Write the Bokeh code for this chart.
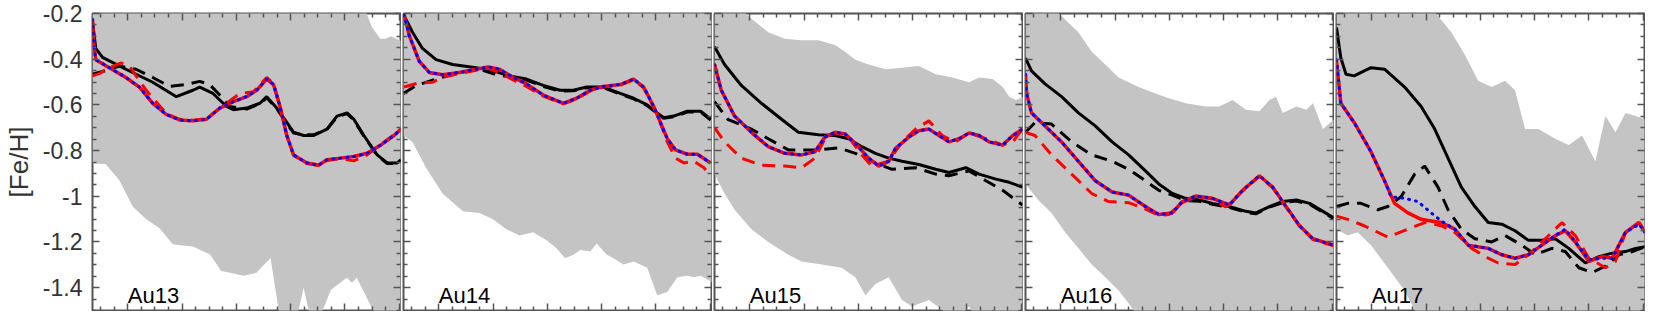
from bokeh.plotting import figure
from bokeh.layouts import row
from bokeh.models import Range1d, LinearAxis, FixedTicker, CustomJSTickFormatter, Label
from bokeh.embed import file_html
from bokeh.resources import INLINE

# ---------------- data ----------------
PANEL_NAMES = ["Au13", "Au14", "Au15", "Au16", "Au17"]

Y_MAJOR_TICKS = [-1.4, -1.2, -1.0, -0.8, -0.6, -0.4, -0.2]
Y_MINOR_TICKS = [-1.5, -1.45, -1.35, -1.3, -1.25, -1.15, -1.1, -1.05, -0.95, -0.9, -0.85,
                 -0.75, -0.7, -0.65, -0.55, -0.5, -0.45, -0.35, -0.3, -0.25]
X_MAJOR_TICKS = [2, 4, 6, 8, 10, 12]
X_MINOR_TICKS = [1.0, 1.5, 2.5, 3.0, 3.5, 4.5, 5.0, 5.5, 6.5, 7.0, 7.5, 8.5, 9.0, 9.5,
                 10.5, 11.0, 11.5]
X_LIMITS = [0.7, 12.05]
Y_LIMITS = [-1.5, -0.2]

# ---- Au13 ----
au13_solid_x = [0.70, 0.82, 1.07, 1.93, 2.92, 3.79, 4.40, 4.65, 5.14, 5.64, 5.89, 6.38, 6.87, 7.12, 7.49, 7.86, 8.11, 8.48, 8.85, 9.34, 9.71, 10.08, 10.33, 10.70, 11.19, 11.56, 11.93, 12.07]
au13_solid_y = [-0.232, -0.353, -0.392, -0.444, -0.501, -0.564, -0.536, -0.522, -0.550, -0.607, -0.621, -0.614, -0.593, -0.564, -0.614, -0.677, -0.720, -0.734, -0.734, -0.706, -0.649, -0.635, -0.663, -0.734, -0.819, -0.854, -0.854, -0.840]
au13_dash_x = [0.70, 1.07, 1.69, 2.30, 2.92, 3.54, 4.16, 4.65, 5.02, 5.39, 5.76, 6.38, 6.87, 7.12, 7.49, 7.86, 8.11, 8.48, 8.85, 9.34, 9.71, 10.08, 10.33, 10.70, 11.19, 11.56, 11.93, 12.07]
au13_dash_y = [-0.466, -0.454, -0.430, -0.444, -0.480, -0.519, -0.511, -0.497, -0.511, -0.557, -0.607, -0.618, -0.595, -0.569, -0.617, -0.682, -0.723, -0.731, -0.731, -0.708, -0.652, -0.638, -0.666, -0.737, -0.821, -0.857, -0.857, -0.843]
au13_red_x = [0.70, 0.74, 0.82, 1.32, 1.93, 2.43, 2.92, 3.42, 3.91, 4.40, 4.90, 5.39, 5.89, 6.38, 6.75, 7.12, 7.37, 7.61, 7.86, 8.11, 8.60, 9.03, 9.34, 9.84, 10.33, 10.82, 11.32, 11.81, 12.07]
au13_red_y = [-0.225, -0.324, -0.402, -0.437, -0.480, -0.522, -0.593, -0.642, -0.666, -0.670, -0.663, -0.614, -0.586, -0.564, -0.536, -0.487, -0.511, -0.607, -0.734, -0.819, -0.854, -0.864, -0.840, -0.833, -0.826, -0.812, -0.776, -0.734, -0.706]
au13_blue_x = au13_red_x
au13_blue_y = au13_red_y
au13_reddash_x = [0.70, 0.95, 1.32, 1.75, 2.06, 2.43, 2.68, 3.42, 3.91, 4.40, 4.90, 5.39, 6.13, 6.63, 7.12, 7.37, 7.61, 7.86, 8.11, 8.60, 9.03, 9.34, 9.84, 10.33, 10.82, 11.32, 11.81, 12.07]
au13_reddash_y = [-0.473, -0.463, -0.437, -0.416, -0.430, -0.494, -0.536, -0.638, -0.663, -0.667, -0.660, -0.614, -0.550, -0.543, -0.480, -0.506, -0.607, -0.734, -0.821, -0.857, -0.864, -0.843, -0.836, -0.845, -0.819, -0.773, -0.731, -0.706]
au13_band_hi_x = [0.70, 10.60, 10.80, 11.00, 11.30, 11.50, 11.70, 12.07]
au13_band_hi_y = [-0.10, -0.10, -0.20, -0.26, -0.31, -0.31, -0.30, -0.32]
au13_band_lo_x = [0.70, 1.19, 1.69, 2.18, 2.67, 3.17, 3.66, 4.03, 4.40, 5.03, 5.44, 5.77, 6.26, 6.74, 7.26, 7.63, 8.11, 8.48, 8.85, 9.48, 10.07, 10.26, 10.44, 10.96, 11.44, 12.07]
au13_band_lo_y = [-0.855, -0.860, -0.930, -1.045, -1.100, -1.140, -1.210, -1.215, -1.220, -1.255, -1.327, -1.335, -1.348, -1.335, -1.270, -1.550, -1.600, -1.400, -1.600, -1.410, -1.357, -1.378, -1.357, -1.480, -1.600, -1.600]

# ---- Au14 ----
au14_solid_x = [0.70, 1.03, 1.40, 1.90, 2.51, 3.38, 4.00, 4.61, 5.23, 5.85, 6.47, 6.96, 7.45, 8.07, 8.69, 9.18, 9.68, 10.05, 10.29, 10.66, 11.16, 11.65, 12.02]
au14_solid_y = [-0.204, -0.282, -0.353, -0.402, -0.423, -0.437, -0.451, -0.473, -0.487, -0.515, -0.536, -0.536, -0.522, -0.522, -0.550, -0.571, -0.600, -0.635, -0.656, -0.649, -0.628, -0.628, -0.663]
au14_dash_x = [0.70, 1.16, 1.90, 2.76, 3.50, 4.12, 4.61, 5.23, 5.85, 6.47, 6.96, 7.45, 8.07, 8.69, 9.18, 9.68, 10.05, 10.29, 10.66, 11.16, 11.65, 12.02]
au14_dash_y = [-0.550, -0.515, -0.487, -0.458, -0.444, -0.468, -0.477, -0.491, -0.519, -0.540, -0.538, -0.525, -0.525, -0.553, -0.574, -0.603, -0.638, -0.659, -0.652, -0.631, -0.631, -0.666]
au14_red_x = [0.72, 0.91, 1.28, 1.65, 2.14, 2.76, 3.38, 3.81, 4.24, 4.74, 5.23, 5.85, 6.59, 7.08, 7.58, 8.07, 8.69, 9.18, 9.55, 9.92, 10.17, 10.42, 10.72, 11.16, 11.53, 12.02]
au14_red_y = [-0.204, -0.296, -0.409, -0.458, -0.468, -0.458, -0.444, -0.434, -0.444, -0.480, -0.508, -0.557, -0.593, -0.571, -0.536, -0.519, -0.511, -0.487, -0.522, -0.607, -0.677, -0.748, -0.797, -0.816, -0.816, -0.854]
au14_blue_x = au14_red_x
au14_blue_y = au14_red_y
au14_reddash_x = [0.72, 1.22, 1.77, 2.14, 2.76, 3.38, 3.81, 4.24, 4.74, 5.23, 5.85, 6.59, 7.08, 7.58, 8.07, 8.69, 9.18, 9.55, 9.92, 10.17, 10.42, 10.72, 11.03, 11.40, 11.77, 12.02]
au14_reddash_y = [-0.522, -0.505, -0.501, -0.480, -0.463, -0.449, -0.440, -0.458, -0.491, -0.519, -0.562, -0.595, -0.574, -0.539, -0.522, -0.514, -0.490, -0.525, -0.610, -0.680, -0.762, -0.833, -0.854, -0.847, -0.875, -0.910]
au14_band_hi_x = [0.70, 12.07]
au14_band_hi_y = [-0.10, -0.10]
au14_band_lo_x = [0.70, 1.03, 1.53, 2.14, 2.89, 3.50, 4.00, 4.49, 4.98, 5.48, 5.97, 6.34, 6.65, 6.96, 7.21, 7.58, 7.82, 8.19, 8.44, 8.81, 9.18, 9.68, 10.05, 10.42, 10.79, 11.16, 11.40, 11.65, 12.07]
au14_band_lo_y = [-0.734, -0.762, -0.875, -0.988, -1.066, -1.073, -1.101, -1.144, -1.172, -1.158, -1.193, -1.228, -1.271, -1.256, -1.235, -1.242, -1.207, -1.256, -1.271, -1.299, -1.285, -1.313, -1.433, -1.419, -1.355, -1.348, -1.355, -1.348, -1.377]

# ---- Au15 ----
au15_solid_x = [0.70, 1.07, 1.69, 2.43, 3.17, 3.79, 4.53, 5.14, 5.64, 6.13, 6.63, 7.12, 7.61, 8.23, 8.85, 9.34, 9.96, 10.45, 11.07, 11.56, 12.05]
au15_solid_y = [-0.345, -0.423, -0.515, -0.593, -0.663, -0.720, -0.731, -0.734, -0.748, -0.783, -0.812, -0.833, -0.847, -0.861, -0.882, -0.896, -0.875, -0.903, -0.925, -0.939, -0.960]
au15_dash_x = [0.70, 1.19, 2.06, 2.68, 3.42, 3.91, 4.53, 5.27, 5.89, 6.63, 7.24, 8.11, 8.85, 9.34, 10.08, 10.70, 11.32, 12.05]
au15_dash_y = [-0.586, -0.663, -0.706, -0.748, -0.797, -0.797, -0.797, -0.788, -0.812, -0.854, -0.882, -0.875, -0.903, -0.910, -0.889, -0.932, -0.974, -1.038]
au15_red_x = [0.70, 0.95, 1.44, 2.06, 2.68, 3.29, 3.91, 4.40, 4.77, 5.14, 5.51, 5.89, 6.38, 6.75, 7.12, 7.37, 7.86, 8.23, 8.60, 8.97, 9.34, 9.71, 10.08, 10.45, 10.82, 11.32, 11.69, 12.05]
au15_red_y = [-0.423, -0.536, -0.649, -0.720, -0.783, -0.812, -0.819, -0.805, -0.741, -0.720, -0.727, -0.769, -0.833, -0.868, -0.847, -0.790, -0.741, -0.713, -0.706, -0.734, -0.762, -0.748, -0.723, -0.734, -0.762, -0.776, -0.734, -0.706]
au15_blue_x = au15_red_x
au15_blue_y = au15_red_y
au15_reddash_x = [0.70, 1.07, 1.69, 2.43, 3.29, 3.91, 4.40, 4.77, 5.14, 5.64, 6.13, 6.50, 7.12, 7.61, 8.11, 8.60, 9.09, 9.59, 10.08, 10.70, 11.32, 11.69, 12.05]
au15_reddash_y = [-0.699, -0.762, -0.833, -0.864, -0.868, -0.875, -0.833, -0.748, -0.720, -0.741, -0.819, -0.868, -0.847, -0.762, -0.706, -0.670, -0.734, -0.762, -0.723, -0.748, -0.776, -0.762, -0.706]
au15_band_hi_x = [0.70, 1.50, 1.93, 2.68, 3.29, 3.91, 4.53, 5.14, 5.51, 5.89, 6.38, 7.00, 7.61, 8.23, 8.85, 9.47, 10.08, 10.45, 10.95, 11.32, 11.56, 11.81, 12.07]
au15_band_hi_y = [-0.120, -0.150, -0.211, -0.282, -0.310, -0.317, -0.317, -0.338, -0.367, -0.402, -0.423, -0.444, -0.437, -0.430, -0.466, -0.480, -0.501, -0.480, -0.487, -0.522, -0.564, -0.579, -0.564]
au15_band_lo_x = [0.70, 1.07, 1.44, 2.06, 2.68, 3.42, 3.91, 4.65, 5.39, 5.89, 6.26, 6.63, 7.12, 7.61, 7.98, 8.60, 9.09, 9.59, 10.08, 10.45, 10.95, 11.32, 12.07]
au15_band_lo_y = [-0.903, -0.988, -1.059, -1.144, -1.200, -1.256, -1.285, -1.299, -1.313, -1.355, -1.433, -1.384, -1.355, -1.454, -1.483, -1.454, -1.497, -1.553, -1.483, -1.553, -1.497, -1.553, -1.553]

# ---- Au16 ----
au16_solid_x = [0.70, 0.92, 1.42, 2.03, 2.65, 3.27, 3.89, 4.50, 5.12, 5.61, 6.11, 6.60, 7.10, 7.59, 8.21, 8.82, 9.19, 9.69, 10.18, 10.68, 11.17, 11.66, 12.05]
au16_solid_y = [-0.395, -0.451, -0.508, -0.564, -0.635, -0.692, -0.762, -0.819, -0.889, -0.946, -0.988, -1.009, -1.016, -1.031, -1.045, -1.066, -1.073, -1.045, -1.023, -1.016, -1.031, -1.066, -1.094]
au16_dash_x = [0.70, 1.05, 1.66, 2.40, 3.14, 3.89, 4.50, 5.12, 5.61, 6.11, 6.60, 7.10, 7.59, 8.21, 8.82, 9.19, 9.69, 10.18, 10.68, 11.17, 11.66, 12.05]
au16_dash_y = [-0.720, -0.677, -0.684, -0.762, -0.819, -0.847, -0.882, -0.932, -0.974, -0.995, -1.019, -1.022, -1.035, -1.049, -1.070, -1.077, -1.047, -1.028, -1.021, -1.035, -1.070, -1.098]
au16_red_x = [0.70, 0.74, 0.92, 1.42, 2.03, 2.65, 3.27, 3.89, 4.50, 5.12, 5.61, 6.11, 6.48, 6.97, 7.59, 8.21, 8.70, 9.32, 9.81, 10.30, 10.80, 11.29, 12.05]
au16_red_y = [-0.466, -0.550, -0.635, -0.692, -0.762, -0.847, -0.932, -0.981, -0.995, -1.045, -1.080, -1.073, -1.023, -0.999, -1.009, -1.038, -0.974, -0.910, -0.960, -1.045, -1.129, -1.186, -1.214]
au16_blue_x = au16_red_x
au16_blue_y = au16_red_y
au16_reddash_x = [0.70, 1.05, 1.66, 2.40, 3.14, 3.76, 4.50, 5.12, 5.61, 5.98, 6.48, 6.97, 7.59, 8.08, 8.70, 9.32, 9.81, 10.30, 10.80, 11.29, 12.05]
au16_reddash_y = [-0.720, -0.734, -0.819, -0.903, -0.988, -1.023, -1.028, -1.056, -1.084, -1.080, -1.028, -1.002, -1.012, -1.047, -0.977, -0.913, -0.963, -1.047, -1.132, -1.189, -1.217]
au16_band_hi_x = [0.70, 1.50, 2.03, 2.65, 3.14, 3.64, 4.13, 4.87, 5.49, 5.98, 6.60, 7.34, 7.84, 8.33, 8.82, 9.32, 9.69, 9.93, 10.18, 10.68, 11.05, 11.29, 11.66, 12.07]
au16_band_hi_y = [-0.120, -0.150, -0.211, -0.282, -0.367, -0.423, -0.480, -0.522, -0.550, -0.571, -0.593, -0.607, -0.607, -0.579, -0.621, -0.628, -0.579, -0.564, -0.635, -0.607, -0.621, -0.593, -0.706, -0.663]
au16_band_lo_x = [0.70, 1.17, 1.66, 2.16, 2.65, 3.14, 3.64, 4.13, 4.50, 4.75, 5.12, 12.07]
au16_band_lo_y = [-0.946, -1.016, -1.073, -1.158, -1.228, -1.299, -1.355, -1.412, -1.468, -1.511, -1.550, -1.550]

# ---- Au17 ----
au17_solid_x = [0.70, 0.86, 1.05, 1.35, 1.97, 2.47, 3.21, 3.82, 4.32, 4.81, 5.30, 5.80, 6.29, 6.79, 7.28, 7.77, 8.27, 8.76, 9.26, 9.87, 10.37, 10.86, 11.35, 11.72, 12.07]
au17_solid_y = [-0.261, -0.395, -0.466, -0.473, -0.437, -0.444, -0.522, -0.607, -0.706, -0.833, -0.960, -1.045, -1.115, -1.122, -1.151, -1.193, -1.193, -1.186, -1.228, -1.292, -1.264, -1.249, -1.242, -1.228, -1.221]
au17_dash_x = [0.70, 1.11, 1.60, 2.22, 2.59, 3.08, 3.58, 3.95, 4.44, 4.81, 5.30, 5.80, 6.42, 6.91, 7.53, 8.02, 8.64, 9.13, 9.63, 10.12, 10.61, 11.11, 11.60, 12.07]
au17_dash_y = [-1.045, -1.031, -1.031, -1.059, -1.045, -1.002, -0.903, -0.868, -0.960, -1.059, -1.144, -1.186, -1.200, -1.172, -1.214, -1.256, -1.228, -1.242, -1.313, -1.334, -1.306, -1.256, -1.242, -1.221]
au17_red_x = [0.70, 0.86, 1.35, 1.97, 2.47, 2.84, 3.33, 3.82, 4.19, 4.56, 5.06, 5.55, 6.29, 6.79, 7.28, 7.77, 8.27, 8.76, 9.13, 9.50, 10.00, 10.49, 10.86, 11.35, 11.85, 12.07]
au17_red_y = [-0.409, -0.593, -0.677, -0.805, -0.932, -1.031, -1.073, -1.101, -1.108, -1.115, -1.144, -1.214, -1.228, -1.256, -1.271, -1.256, -1.214, -1.172, -1.151, -1.200, -1.285, -1.264, -1.271, -1.158, -1.115, -1.158]
au17_blue_x = [0.70, 0.86, 1.35, 1.97, 2.47, 2.71, 3.21, 3.70, 4.19, 4.56, 5.06, 5.55, 6.29, 6.79, 7.28, 7.77, 8.27, 8.76, 9.13, 9.50, 10.00, 10.49, 10.86, 11.35, 11.85, 12.07]
au17_blue_y = [-0.402, -0.593, -0.677, -0.805, -0.932, -1.002, -1.009, -1.023, -1.073, -1.108, -1.144, -1.214, -1.228, -1.256, -1.271, -1.256, -1.214, -1.172, -1.144, -1.200, -1.278, -1.271, -1.271, -1.158, -1.122, -1.158]
au17_reddash_x = [0.70, 1.11, 1.72, 2.59, 3.33, 3.95, 4.56, 5.06, 5.68, 6.29, 6.66, 7.28, 7.77, 8.27, 9.01, 9.50, 10.00, 10.61, 10.98, 11.35, 11.85, 12.07]
au17_reddash_y = [-1.087, -1.101, -1.129, -1.179, -1.144, -1.115, -1.129, -1.158, -1.228, -1.271, -1.292, -1.299, -1.256, -1.200, -1.115, -1.172, -1.271, -1.313, -1.285, -1.158, -1.115, -1.158]
au17_band_hi_x = [0.70, 4.00, 4.44, 4.93, 5.43, 5.92, 6.42, 6.91, 7.28, 7.65, 8.14, 8.76, 9.26, 9.75, 10.24, 10.61, 10.98, 11.35, 11.72, 12.07]
au17_band_hi_y = [-0.120, -0.150, -0.211, -0.282, -0.381, -0.494, -0.522, -0.494, -0.536, -0.706, -0.706, -0.748, -0.776, -0.734, -0.847, -0.649, -0.720, -0.635, -0.649, -0.663]
au17_band_lo_x = [0.70, 1.11, 1.48, 1.97, 2.59, 3.21, 3.58, 3.82, 12.07]
au17_band_lo_y = [-1.144, -1.172, -1.158, -1.214, -1.313, -1.412, -1.497, -1.550, -1.550]

PANEL_DATA = [
    (au13_band_hi_x, au13_band_hi_y, au13_band_lo_x, au13_band_lo_y, au13_solid_x, au13_solid_y,
     au13_dash_x, au13_dash_y, au13_reddash_x, au13_reddash_y, au13_red_x, au13_red_y, au13_blue_x, au13_blue_y),
    (au14_band_hi_x, au14_band_hi_y, au14_band_lo_x, au14_band_lo_y, au14_solid_x, au14_solid_y,
     au14_dash_x, au14_dash_y, au14_reddash_x, au14_reddash_y, au14_red_x, au14_red_y, au14_blue_x, au14_blue_y),
    (au15_band_hi_x, au15_band_hi_y, au15_band_lo_x, au15_band_lo_y, au15_solid_x, au15_solid_y,
     au15_dash_x, au15_dash_y, au15_reddash_x, au15_reddash_y, au15_red_x, au15_red_y, au15_blue_x, au15_blue_y),
    (au16_band_hi_x, au16_band_hi_y, au16_band_lo_x, au16_band_lo_y, au16_solid_x, au16_solid_y,
     au16_dash_x, au16_dash_y, au16_reddash_x, au16_reddash_y, au16_red_x, au16_red_y, au16_blue_x, au16_blue_y),
    (au17_band_hi_x, au17_band_hi_y, au17_band_lo_x, au17_band_lo_y, au17_solid_x, au17_solid_y,
     au17_dash_x, au17_dash_y, au17_reddash_x, au17_reddash_y, au17_red_x, au17_red_y, au17_blue_x, au17_blue_y),
]

# ---------------- styling ----------------
FONT = "Liberation Sans"
FRAME_COLOR = "#555555"
BAND_COLOR = "#c4c4c4"
FRAME_W = 308
HEIGHT = 311
TOP = 13
BOTTOM = 1


def style_axis(ax, major, minor, show_labels=False):
    ax.ticker = FixedTicker(ticks=major, minor_ticks=minor)
    ax.axis_line_color = None
    ax.major_tick_in = 7
    ax.major_tick_out = 0
    ax.minor_tick_in = 4
    ax.minor_tick_out = 0
    ax.major_tick_line_color = FRAME_COLOR
    ax.minor_tick_line_color = FRAME_COLOR
    ax.major_tick_line_width = 1.5
    ax.minor_tick_line_width = 1.5
    if not show_labels:
        # no tick labels on this side: the labels are not painted and take no room
        ax.major_label_text_color = None
        ax.major_label_standoff = 0
        ax.axis_label = None


def make_panel(idx):
    first = idx == 0
    left = 92 if first else 2
    width = left + FRAME_W + 1
    p = figure(width=width, height=HEIGHT,
               x_range=Range1d(*X_LIMITS), y_range=Range1d(*Y_LIMITS),
               output_backend="svg", toolbar_location=None,
               min_border_left=left, min_border_right=1,
               min_border_top=TOP, min_border_bottom=BOTTOM)
    p.grid.visible = False
    p.outline_line_color = FRAME_COLOR
    p.outline_line_width = 2
    p.background_fill_color = "white"
    p.border_fill_color = "white"

    (hx, hy, lx, ly, sx, sy, dx, dy, rdx, rdy, rx, ry, bx, by) = PANEL_DATA[idx]

    band_x = list(hx) + list(reversed(lx))
    band_y = list(hy) + list(reversed(ly))
    p.patch(band_x, band_y, fill_color=BAND_COLOR, line_color=None)

    p.line(sx, sy, line_color="black", line_width=3)
    p.line(dx, dy, line_color="black", line_width=3, line_dash="13 8")
    p.line(rdx, rdy, line_color="#ff0000", line_width=3, line_dash="13 8")
    p.line(rx, ry, line_color="#ff0000", line_width=3.5)
    p.line(bx, by, line_color="#0000ff", line_width=3, line_dash="1 6", line_cap="round")

    # axes on all four sides, ticks pointing inwards
    style_axis(p.xaxis[0], X_MAJOR_TICKS, X_MINOR_TICKS)
    style_axis(p.yaxis[0], Y_MAJOR_TICKS, Y_MINOR_TICKS, show_labels=first)
    top = LinearAxis()
    style_axis(top, X_MAJOR_TICKS, X_MINOR_TICKS)
    p.add_layout(top, "above")
    right = LinearAxis()
    style_axis(right, Y_MAJOR_TICKS, Y_MINOR_TICKS)
    p.add_layout(right, "right")

    if first:
        ya = p.yaxis[0]
        ya.formatter = CustomJSTickFormatter(code="return tick.toFixed(1).replace(/\\.0$/, '');")
        ya.major_label_text_font = FONT
        ya.major_label_text_font_size = "23px"
        ya.major_label_text_color = "#333333"
        ya.major_label_standoff = 10
        ya.axis_label = "[Fe/H]"
        ya.axis_label_text_font = FONT
        ya.axis_label_text_font_size = "26px"
        ya.axis_label_text_font_style = "normal"
        ya.axis_label_text_color = "#333333"
        ya.axis_label_standoff = 6

    p.add_layout(Label(x=2.0, y=-1.434, text=PANEL_NAMES[idx], text_font=FONT,
                       text_font_size="22px", text_color="black",
                       text_baseline="alphabetic"))
    return p


panels = [make_panel(i) for i in range(len(PANEL_NAMES))]
layout = row(*panels, spacing=0)

open("out.html", "w").write(file_html(layout, INLINE))
